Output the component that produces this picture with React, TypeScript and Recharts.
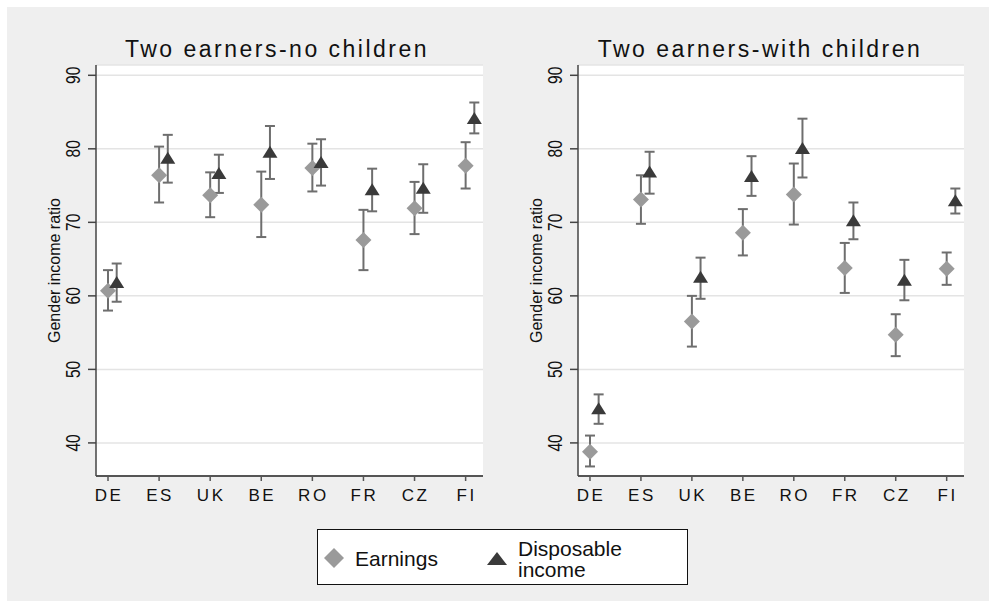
import { ScatterChart, Scatter, XAxis, YAxis, CartesianGrid, ErrorBar } from 'recharts'

const countries = ['DE', 'ES', 'UK', 'BE', 'RO', 'FR', 'CZ', 'FI']
const yTicks = [40, 50, 60, 70, 80, 90]

// two earners, no children
const earnNoKids = [60.7, 76.4, 73.7, 72.4, 77.4, 67.6, 71.9, 77.7]
const earnNoKidsLo = [58.0, 72.7, 70.7, 68.0, 74.2, 63.5, 68.4, 74.6]
const earnNoKidsHi = [63.5, 80.3, 76.8, 76.9, 80.7, 71.7, 75.5, 80.9]
const dispNoKids = [61.9, 78.8, 76.7, 79.6, 78.2, 74.5, 74.7, 84.2]
const dispNoKidsLo = [59.2, 75.4, 74.0, 75.9, 75.0, 71.5, 71.3, 82.1]
const dispNoKidsHi = [64.4, 81.9, 79.2, 83.1, 81.3, 77.3, 77.9, 86.3]

// two earners, with children
const earnKids = [38.8, 73.1, 56.5, 68.6, 73.8, 63.8, 54.7, 63.7]
const earnKidsLo = [36.8, 69.8, 53.1, 65.5, 69.7, 60.4, 51.8, 61.5]
const earnKidsHi = [41.0, 76.4, 60.0, 71.8, 78.0, 67.2, 57.5, 65.9]
const dispKids = [44.7, 76.9, 62.6, 76.3, 80.1, 70.3, 62.2, 73.0]
const dispKidsLo = [42.6, 73.9, 59.6, 73.6, 76.1, 67.7, 59.4, 71.2]
const dispKidsHi = [46.6, 79.6, 65.2, 79.0, 84.1, 72.7, 64.9, 74.6]

const FONT = '"Liberation Sans", Arial, sans-serif'
const DODGE = 0.17
const EARN_COLOR = '#9a9a9a'
const DISP_COLOR = '#3a3a3a'
const BAR_COLOR = '#6e6e6e'

function makeRows(shift: number, vals: number[], lo: number[], hi: number[]) {
  return vals.map((v, i) => ({
    x: i + 1 + shift,
    y: v,
    err: [v - lo[i], hi[i] - v],
  }))
}

const Diamond = (p: any) => {
  const { cx, cy } = p
  return (
    <polygon
      points={`${cx},${cy - 8} ${cx + 8},${cy} ${cx},${cy + 8} ${cx - 8},${cy}`}
      fill={EARN_COLOR}
    />
  )
}

const Triangle = (p: any) => {
  const { cx, cy } = p
  return (
    <polygon
      points={`${cx},${cy - 6} ${cx + 7.5},${cy + 6} ${cx - 7.5},${cy + 6}`}
      fill={DISP_COLOR}
    />
  )
}

const XTick = (p: any) => (
  <text
    x={p.x + 1}
    y={p.y}
    dy={18}
    textAnchor="middle"
    fontSize={17}
    letterSpacing={2.5}
    fill="#111"
    fontFamily={FONT}
  >
    {countries[Math.round(p.payload.value) - 1]}
  </text>
)

// stata draws these digits taller than wide
const YTick = (p: any) => (
  <text
    x={p.x}
    y={p.y}
    transform={`rotate(-90 ${p.x} ${p.y}) translate(${p.x} ${p.y}) scale(1 1.35) translate(${-p.x} ${-p.y})`}
    textAnchor="middle"
    fontSize={15.5}
    fill="#111"
    fontFamily={FONT}
  >
    {p.payload.value}
  </text>
)

const YLabel = (p: any) => {
  const vb = p.viewBox
  const x = vb.x + vb.width - 42
  const y = vb.y + vb.height / 2
  return (
    <text
      x={x}
      y={y}
      dy="0.35em"
      transform={`rotate(-90 ${x} ${y})`}
      textAnchor="middle"
      fontSize={16}
      fill="#111"
      fontFamily={FONT}
    >
      Gender income ratio
    </text>
  )
}

function Panel(props: {
  title: string
  left: number
  width: number
  titleCenter: number
  earn: number[]
  earnLo: number[]
  earnHi: number[]
  disp: number[]
  dispLo: number[]
  dispHi: number[]
}) {
  const earnRows = makeRows(0, props.earn, props.earnLo, props.earnHi)
  const dispRows = makeRows(DODGE, props.disp, props.dispLo, props.dispHi)
  return (
    <>
      <div
        style={{
          position: 'absolute',
          left: props.titleCenter - 200,
          top: 38,
          width: 400,
          textAlign: 'center',
          fontFamily: FONT,
          fontSize: 23,
          lineHeight: '22px',
          letterSpacing: 2.5,
          color: '#111',
        }}
      >
        {props.title}
      </div>
      <div style={{ position: 'absolute', left: props.left, top: 60 }}>
        <ScatterChart
          width={props.width}
          height={456}
          margin={{ top: 5, right: 10, bottom: 0, left: 0 }}
        >
          <CartesianGrid vertical={false} fill="#fff" stroke="#e4e4e4" strokeWidth={1.5} />
          <XAxis
            type="number"
            dataKey="x"
            domain={[0.765, 8.34]}
            ticks={countries.map((_, i) => i + 1)}
            interval={0}
            allowDataOverflow
            height={40}
            tickSize={5}
            axisLine={{ stroke: '#555', strokeWidth: 2 }}
            tickLine={{ stroke: '#555', strokeWidth: 1.5 }}
            tick={XTick}
          />
          <YAxis
            type="number"
            dataKey="y"
            domain={[35.5, 91.4]}
            ticks={yTicks}
            interval={0}
            allowDataOverflow
            width={76}
            tickSize={8}
            tickMargin={8}
            axisLine={{ stroke: '#444', strokeWidth: 1.5 }}
            tickLine={{ stroke: '#444', strokeWidth: 1.5 }}
            tick={YTick}
            label={{ content: YLabel }}
          />
          <Scatter data={earnRows} shape={Diamond} isAnimationActive={false}>
            <ErrorBar
              dataKey="err"
              direction="y"
              width={5}
              stroke={BAR_COLOR}
              strokeWidth={2}
              isAnimationActive={false}
            />
          </Scatter>
          <Scatter data={dispRows} shape={Triangle} isAnimationActive={false}>
            <ErrorBar
              dataKey="err"
              direction="y"
              width={5}
              stroke={BAR_COLOR}
              strokeWidth={2}
              isAnimationActive={false}
            />
          </Scatter>
        </ScatterChart>
      </div>
    </>
  )
}

export default function App() {
  return (
    <div
      style={{
        position: 'absolute',
        left: 0,
        top: 0,
        width: 989,
        height: 601,
        background: '#fff',
        fontFamily: FONT,
      }}
    >
      <div
        style={{
          position: 'absolute',
          left: 7,
          top: 7,
          width: 982,
          height: 594,
          background: '#efefef',
        }}
      />
      <Panel
        title="Two earners-no children"
        left={20}
        width={473}
        titleCenter={277}
        earn={earnNoKids}
        earnLo={earnNoKidsLo}
        earnHi={earnNoKidsHi}
        disp={dispNoKids}
        dispLo={dispNoKidsLo}
        dispHi={dispNoKidsHi}
      />
      <Panel
        title="Two earners-with children"
        left={502}
        width={472}
        titleCenter={760}
        earn={earnKids}
        earnLo={earnKidsLo}
        earnHi={earnKidsHi}
        disp={dispKids}
        dispLo={dispKidsLo}
        dispHi={dispKidsHi}
      />
      <div
        style={{
          position: 'absolute',
          left: 317,
          top: 529,
          width: 369,
          height: 54,
          border: '1.5px solid #111',
          background: '#fff',
          color: '#111',
          fontSize: 21,
        }}
      >
        <svg
          width={22}
          height={22}
          style={{ position: 'absolute', left: 5, top: 17 }}
        >
          <polygon points="11,1 21,11 11,21 1,11" fill={EARN_COLOR} />
        </svg>
        <div style={{ position: 'absolute', left: 37, top: 18, lineHeight: '21px' }}>
          Earnings
        </div>
        <svg
          width={22}
          height={16}
          style={{ position: 'absolute', left: 168, top: 21 }}
        >
          <polygon points="11,1 21,14 1,14" fill={DISP_COLOR} />
        </svg>
        <div style={{ position: 'absolute', left: 200, top: 8, lineHeight: '21px' }}>
          Disposable
          <br />
          income
        </div>
      </div>
    </div>
  )
}
